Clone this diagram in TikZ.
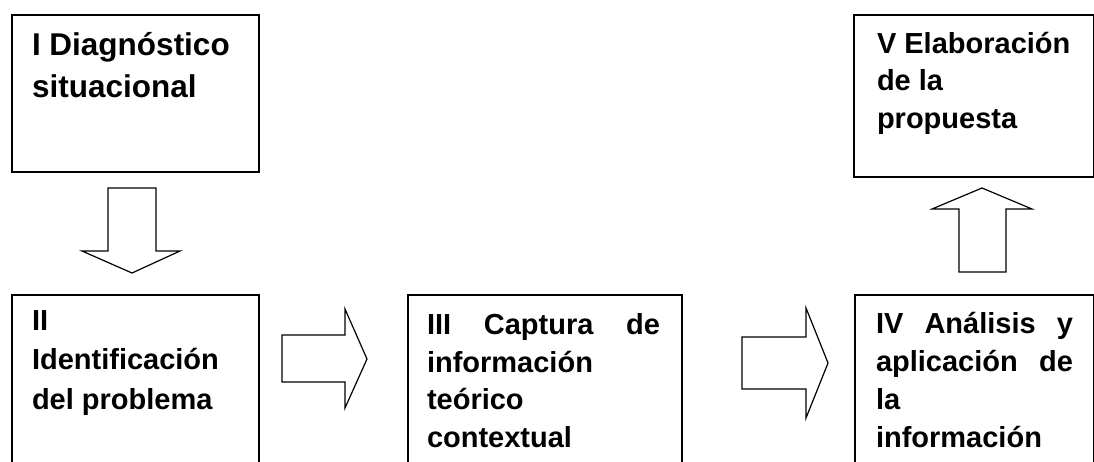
\documentclass[tikz,border=0pt]{standalone}
\usepackage{fontspec}
\setmainfont{Liberation Sans}
\begin{document}
\begin{tikzpicture}[x=1pt,y=-1pt,
  stage/.style={draw, line width=1.5pt, inner sep=0pt, anchor=north west},
  lbl/.style={anchor=base west, inner sep=0pt, outer sep=0pt, align=left},
  blockarrow/.style={draw, line width=1.2pt, fill=white, line join=miter}]
\useasboundingbox (0,0) rectangle (1094,461);
\clip (0,0) rectangle (1094,461);
% stage boxes
\node[stage, minimum width=247pt, minimum height=157pt] (s1) at (11,14) {};
\node[stage, minimum width=247pt, minimum height=200pt] (s2) at (11,294) {};
\node[stage, minimum width=274pt, minimum height=200pt] (s3) at (407,294) {};
\node[stage, minimum width=239pt, minimum height=200pt] (s4) at (854,294) {};
\node[stage, minimum width=240pt, minimum height=162pt] (s5) at (853,14) {};
% texts (anchor = baseline of the last line)
\node[lbl, font=\bfseries\fontsize{31.5}{42}\selectfont] (t1) at (32,97)
  {I Diagnóstico\\situacional};
\node[lbl, font=\bfseries\fontsize{29}{39.5}\selectfont] (t2) at (32,409)
  {II\\Identificación\\del problema};
\node[lbl, font=\bfseries\fontsize{29}{37.4}\selectfont] (t3) at (427,447)
  {\makebox[233pt][s]{III Captura de}\\información\\teórico\\contextual};
\node[lbl, font=\bfseries\fontsize{29}{38}\selectfont] (t4) at (876,447)
  {\makebox[197pt][s]{IV Análisis y}\\\makebox[197pt][s]{aplicación de}\\la\\información};
\node[lbl, font=\bfseries\fontsize{29}{37.5}\selectfont] (t5) at (877,128)
  {V Elaboración\\de la\\propuesta};
% block arrows
\draw[blockarrow] (108,188) -- (156,188) -- (156,251) -- (180,251) -- (132,273)
  -- (82,251) -- (108,251) -- cycle;
\draw[blockarrow] (282,335) -- (345,335) -- (345,309) -- (367,359) -- (345,408)
  -- (345,382) -- (282,382) -- cycle;
\draw[blockarrow] (742,337) -- (806,337) -- (806,308) -- (828,363) -- (806,418)
  -- (806,389) -- (742,389) -- cycle;
\draw[blockarrow] (959,272) -- (959,209) -- (932,209) -- (982,188) -- (1032,209)
  -- (1006,209) -- (1006,272) -- cycle;
\end{tikzpicture}
\end{document}
